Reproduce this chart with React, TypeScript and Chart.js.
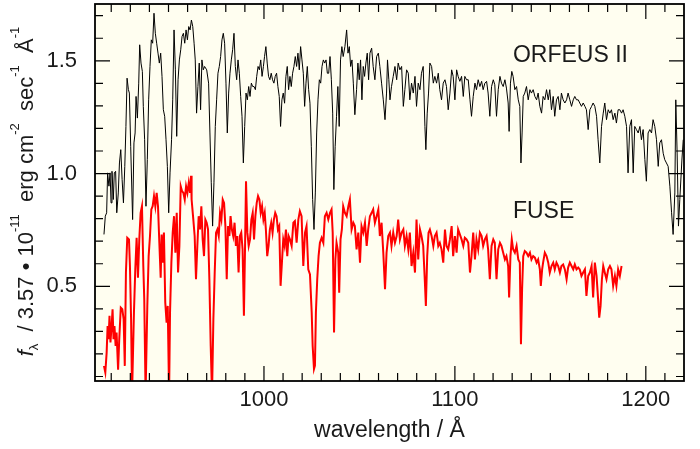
import React, { useEffect, useRef } from 'react';
import { Chart, registerables } from 'chart.js';

Chart.register(...registerables);

// ORFEUS II spectrum (wavelength in Å, scaled flux)
const orfeusWavelength = [
  916.2, 916.9, 917.6, 918.1, 918.8, 919.4, 919.9, 920.4, 921.1, 921.6, 922.3, 922.9, 923.7, 924.3, 925.0, 925.7, 926.4, 927.1, 927.7, 928.3,
  929.0, 929.5, 930.2, 931.2, 931.9, 932.5, 933.0, 933.7, 934.4, 934.9, 935.6, 936.3, 936.8, 937.5, 938.2, 938.9, 939.6, 940.3, 941.0, 941.7,
  942.4, 943.1, 943.8, 944.5, 945.2, 945.9, 946.6, 947.3, 948.0, 948.7, 949.4, 950.1, 950.8, 951.6, 952.2, 952.9, 953.6, 954.3, 955.0, 955.7,
  956.4, 957.1, 957.8, 958.5, 959.2, 959.9, 960.6, 961.3, 962.0, 962.7, 963.4, 964.0, 964.7, 965.4, 966.1, 966.8, 967.5, 968.2, 968.9, 970.0,
  971.0, 971.7, 972.4, 973.1, 973.8, 974.5, 975.2, 975.9, 976.6, 977.3, 978.0, 978.7, 979.4, 980.1, 980.8, 981.5, 982.2, 982.9, 983.6, 984.3,
  985.0, 985.7, 986.4, 987.1, 987.8, 988.5, 989.2, 989.9, 990.6, 991.3, 992.0, 992.7, 993.4, 994.1, 994.8, 995.5, 996.2, 996.9, 997.6, 998.3,
  999.0, 999.7, 1000.3, 1001.0, 1001.7, 1002.4, 1003.1, 1003.8, 1004.5, 1005.2, 1005.9, 1006.6, 1007.3, 1008.0, 1008.7, 1009.4, 1010.1, 1010.8, 1011.5, 1012.2,
  1012.9, 1013.6, 1014.3, 1015.0, 1015.7, 1016.4, 1017.1, 1017.8, 1018.5, 1019.2, 1019.9, 1020.6, 1021.3, 1022.0, 1022.7, 1023.4, 1024.1, 1024.8, 1025.5, 1026.2,
  1026.9, 1027.6, 1028.3, 1029.0, 1029.7, 1030.4, 1031.1, 1031.8, 1032.5, 1033.2, 1033.9, 1034.6, 1035.3, 1036.0, 1036.6, 1037.3, 1038.0, 1038.7, 1039.4, 1040.1,
  1040.8, 1041.5, 1042.4, 1043.3, 1044.0, 1044.7, 1045.4, 1046.1, 1046.8, 1047.6, 1048.5, 1049.2, 1049.9, 1050.6, 1051.3, 1052.0, 1052.7, 1053.4, 1054.1, 1054.8,
  1055.5, 1056.4, 1057.2, 1058.1, 1059.0, 1059.9, 1060.7, 1061.6, 1062.5, 1063.4, 1064.2, 1064.7, 1065.4, 1066.0, 1066.8, 1067.7, 1068.6, 1069.5, 1070.3, 1071.2,
  1072.1, 1073.0, 1073.8, 1074.7, 1075.6, 1076.4, 1077.3, 1078.2, 1079.1, 1079.9, 1080.8, 1081.7, 1082.5, 1083.4, 1084.3, 1084.8, 1085.5, 1086.2, 1086.9, 1087.8,
  1088.7, 1089.5, 1090.4, 1091.3, 1092.1, 1093.0, 1093.9, 1094.8, 1095.6, 1096.5, 1097.4, 1098.3, 1099.1, 1100.0, 1100.9, 1101.7, 1102.6, 1103.5, 1104.4, 1105.2,
  1106.1, 1107.0, 1107.9, 1108.7, 1109.6, 1110.5, 1111.3, 1112.2, 1113.1, 1114.0, 1114.8, 1115.7, 1116.6, 1117.4, 1118.3, 1119.2, 1120.1, 1120.9, 1121.8, 1122.7,
  1123.6, 1124.4, 1125.3, 1126.2, 1127.0, 1127.9, 1128.4, 1129.1, 1129.8, 1130.5, 1131.4, 1132.3, 1133.2, 1134.0, 1134.6, 1135.2, 1135.8, 1136.6, 1137.5, 1138.4,
  1139.3, 1140.1, 1141.0, 1141.9, 1142.8, 1143.6, 1144.5, 1145.4, 1146.2, 1147.1, 1148.0, 1148.9, 1149.7, 1150.6, 1151.5, 1152.3, 1153.2, 1154.1, 1155.0, 1155.8,
  1156.7, 1157.6, 1158.5, 1159.3, 1160.2, 1161.1, 1162.0, 1162.8, 1163.7, 1164.6, 1165.4, 1166.3, 1167.2, 1168.1, 1168.9, 1169.8, 1170.7, 1171.6, 1172.4, 1173.3,
  1174.2, 1175.0, 1175.9, 1176.8, 1177.7, 1178.5, 1179.4, 1180.3, 1181.2, 1182.0, 1182.9, 1183.8, 1184.6, 1185.5, 1186.4, 1187.3, 1188.1, 1189.0, 1189.9, 1190.7,
  1191.6, 1192.5, 1193.4, 1194.2, 1195.1, 1196.0, 1196.9, 1197.7, 1198.6, 1199.5, 1200.3, 1201.2, 1202.1, 1203.0, 1203.8, 1204.7, 1205.6, 1206.5, 1207.3, 1208.2,
  1209.1, 1209.9, 1210.8, 1211.7, 1212.6, 1213.5, 1214.3, 1215.2, 1215.7, 1216.4, 1217.1, 1217.8, 1218.9, 1219.6,
];
const orfeusFlux = [
  0.730, 0.811, 0.826, 1.003, 0.944, 1.003, 0.870, 1.010, 0.885, 1.003, 1.010, 0.826, 0.914, 1.047, 1.106, 0.973, 0.870, 1.032, 1.209, 1.423,
  1.372, 1.357, 1.121, 0.796, 1.136, 1.180, 1.342, 1.246, 1.401, 1.571, 1.490, 1.453, 1.298, 1.150, 0.855, 1.062, 1.327, 1.475, 1.593, 1.578,
  1.711, 1.622, 1.578, 1.534, 1.490, 1.534, 1.431, 1.283, 1.254, 1.150, 1.032, 0.826, 1.003, 1.150, 1.327, 1.637, 1.460, 1.165, 1.416, 1.504,
  1.549, 1.608, 1.622, 1.578, 1.637, 1.593, 1.652, 1.637, 1.681, 1.652, 1.578, 1.504, 1.268, 1.386, 1.490, 1.283, 1.504, 1.460, 1.475, 1.460,
  1.401, 1.180, 0.959, 0.767, 0.959, 1.209, 1.327, 1.445, 1.475, 1.519, 1.593, 1.622, 1.578, 1.401, 1.180, 1.357, 1.445, 1.504, 1.549, 1.622,
  1.475, 1.416, 1.504, 1.445, 1.342, 1.254, 1.047, 1.209, 1.357, 1.327, 1.386, 1.342, 1.401, 1.386, 1.386, 1.372, 1.431, 1.475, 1.460, 1.504,
  1.431, 1.475, 1.519, 1.563, 1.490, 1.431, 1.416, 1.445, 1.416, 1.401, 1.431, 1.445, 1.386, 1.342, 1.209, 1.327, 1.357, 1.312, 1.431, 1.475,
  1.372, 1.431, 1.386, 1.445, 1.475, 1.519, 1.475, 1.534, 1.460, 1.563, 1.504, 1.445, 1.298, 1.401, 1.475, 1.372, 1.312, 1.121, 0.885, 0.752,
  0.914, 1.180, 1.327, 1.416, 1.401, 1.475, 1.504, 1.490, 1.504, 1.445, 1.445, 1.519, 1.416, 1.268, 0.929, 1.121, 1.254, 1.386, 1.209, 1.504,
  1.563, 1.519, 1.563, 1.637, 1.534, 1.563, 1.475, 1.504, 1.401, 1.261, 1.372, 1.490, 1.416, 1.504, 1.327, 1.475, 1.431, 1.490, 1.534, 1.416,
  1.534, 1.556, 1.475, 1.416, 1.519, 1.534, 1.475, 1.401, 1.327, 1.239, 1.357, 1.504, 1.416, 1.327, 1.386, 1.431, 1.475, 1.416, 1.490, 1.460,
  1.475, 1.298, 1.372, 1.460, 1.445, 1.327, 1.401, 1.357, 1.431, 1.298, 1.401, 1.372, 1.445, 1.475, 1.209, 1.106, 1.268, 1.357, 1.490, 1.475,
  1.401, 1.431, 1.401, 1.445, 1.372, 1.327, 1.401, 1.416, 1.386, 1.283, 1.357, 1.460, 1.431, 1.327, 1.460, 1.431, 1.409, 1.431, 1.342, 1.431,
  1.416, 1.416, 1.327, 1.254, 1.342, 1.401, 1.372, 1.416, 1.386, 1.409, 1.372, 1.401, 1.409, 1.357, 1.254, 1.386, 1.416, 1.394, 1.254, 1.372,
  1.431, 1.401, 1.386, 1.416, 1.379, 1.313, 1.187, 1.401, 1.453, 1.431, 1.372, 1.386, 1.327, 1.298, 1.047, 1.180, 1.342, 1.357, 1.386, 1.327,
  1.372, 1.357, 1.372, 1.342, 1.327, 1.357, 1.298, 1.268, 1.342, 1.327, 1.372, 1.327, 1.372, 1.283, 1.342, 1.254, 1.327, 1.342, 1.283, 1.357,
  1.327, 1.313, 1.327, 1.357, 1.327, 1.298, 1.327, 1.342, 1.327, 1.327, 1.313, 1.298, 1.313, 1.298, 1.283, 1.195, 1.283, 1.298, 1.313, 1.298,
  1.254, 1.150, 1.047, 1.209, 1.268, 1.313, 1.239, 1.283, 1.268, 1.283, 1.239, 1.268, 1.224, 1.283, 1.283, 1.268, 1.283, 1.254, 1.209, 1.003,
  1.209, 1.239, 1.003, 1.209, 1.195, 1.180, 1.209, 1.150, 1.195, 1.062, 0.966, 1.180, 1.195, 1.180, 1.239, 1.209, 1.150, 1.032, 1.136, 1.150,
  1.090, 1.062, 1.047, 1.032, 0.944, 0.826, 0.730, 0.914, 1.327, 1.091, 0.767, 0.885, 1.060, 1.150,
];

// FUSE spectrum
const fuseWavelength = [
  916.2, 916.9, 917.6, 918.1, 918.6, 919.1, 919.6, 920.2, 920.7, 921.2, 921.7, 922.3, 922.8, 923.6, 924.2, 925.0, 925.8, 926.5, 927.1, 927.7,
  928.4, 929.3, 929.8, 930.4, 930.9, 931.9, 932.6, 933.3, 934.0, 934.7, 935.4, 936.1, 936.8, 937.3, 938.0, 938.9, 939.6, 940.3, 941.0, 941.7,
  942.4, 943.1, 943.8, 944.5, 945.2, 945.9, 946.4, 946.9, 947.6, 948.3, 949.0, 949.6, 950.3, 950.8, 951.5, 952.2, 952.9, 953.6, 954.3, 955.0,
  955.7, 956.4, 957.1, 957.8, 958.5, 959.2, 959.9, 960.6, 961.3, 961.8, 962.1, 963.0, 963.7, 964.4, 965.1, 965.8, 966.5, 967.2, 967.9, 968.6,
  969.3, 970.0, 970.7, 971.4, 972.1, 972.8, 973.5, 974.2, 974.9, 975.6, 976.3, 977.0, 977.7, 978.4, 979.1, 979.8, 980.5, 981.2, 981.9, 982.5,
  983.2, 983.9, 984.6, 985.3, 986.0, 986.7, 987.4, 988.1, 988.8, 989.5, 990.1, 990.6, 991.3, 992.0, 992.7, 993.4, 994.1, 994.8, 995.5, 996.2,
  996.9, 997.6, 998.3, 999.0, 999.7, 1000.4, 1001.0, 1001.7, 1002.4, 1003.1, 1003.8, 1004.5, 1005.2, 1005.9, 1006.6, 1007.3, 1008.0, 1008.7, 1009.4, 1010.1,
  1010.8, 1011.5, 1012.2, 1012.9, 1013.6, 1014.5, 1015.4, 1016.2, 1017.1, 1018.0, 1018.8, 1019.7, 1020.6, 1021.5, 1022.3, 1023.2, 1024.1, 1025.0, 1025.5, 1026.2,
  1026.7, 1027.2, 1027.9, 1028.6, 1029.3, 1030.2, 1031.1, 1031.9, 1032.8, 1033.7, 1034.6, 1035.4, 1036.0, 1036.7, 1037.4, 1038.0, 1038.9, 1039.4, 1040.1, 1040.8,
  1041.5, 1042.4, 1043.3, 1044.2, 1045.0, 1045.9, 1046.8, 1047.6, 1048.5, 1049.4, 1050.3, 1051.1, 1052.0, 1052.9, 1053.8, 1054.6, 1055.5, 1056.4, 1057.2, 1058.1,
  1059.0, 1059.9, 1060.7, 1061.6, 1062.5, 1063.4, 1064.2, 1065.1, 1066.0, 1066.8, 1067.7, 1068.6, 1069.5, 1070.3, 1071.2, 1072.1, 1073.0, 1073.8, 1074.7, 1075.6,
  1076.4, 1077.3, 1078.2, 1079.1, 1079.9, 1080.8, 1081.7, 1082.5, 1083.4, 1084.3, 1084.8, 1085.5, 1086.2, 1086.9, 1087.8, 1088.7, 1089.5, 1090.4, 1091.3, 1092.1,
  1093.0, 1093.9, 1094.8, 1095.6, 1096.5, 1097.4, 1098.3, 1099.1, 1100.0, 1100.9, 1101.7, 1102.6, 1103.5, 1104.4, 1105.2, 1106.1, 1107.0, 1107.9, 1108.7, 1109.6,
  1110.5, 1111.3, 1112.2, 1113.1, 1114.0, 1114.8, 1115.7, 1116.6, 1117.4, 1118.3, 1119.2, 1120.1, 1120.9, 1121.8, 1122.7, 1123.6, 1124.4, 1125.3, 1126.2, 1127.0,
  1127.9, 1128.4, 1129.1, 1129.8, 1130.5, 1131.4, 1132.3, 1133.2, 1134.0, 1134.6, 1135.2, 1135.8, 1136.6, 1137.5, 1138.4, 1139.3, 1140.1, 1141.0, 1141.9, 1142.8,
  1143.6, 1144.5, 1145.0, 1145.7, 1146.2, 1147.1, 1148.0, 1148.9, 1149.7, 1150.6, 1151.5, 1152.3, 1153.2, 1154.1, 1155.0, 1155.8, 1156.7, 1157.6, 1158.5, 1159.3,
  1160.2, 1161.1, 1162.0, 1162.8, 1163.7, 1164.6, 1165.4, 1166.3, 1167.2, 1168.1, 1168.9, 1169.8, 1170.7, 1171.6, 1172.4, 1173.3, 1174.2, 1175.0, 1175.6, 1176.3,
  1177.0, 1177.7, 1178.5, 1179.4, 1180.3, 1181.2, 1182.0, 1182.9, 1183.8, 1184.6, 1185.5, 1186.4, 1187.3,
];
const fuseFlux = [
  0.147, 0.118, 0.206, 0.324, 0.265, 0.369, 0.251, 0.324, 0.398, 0.265, 0.324, 0.236, 0.295, 0.130, 0.265, 0.405, 0.398, 0.354, 0.147, 0.561,
  0.715, 0.708, 0.590, 0.354, 0.020, 0.384, 0.575, 0.715, 0.538, 0.708, 0.826, 0.855, 0.590, 0.443, 0.020, 0.413, 0.634, 0.723, 0.841, 0.855,
  0.900, 0.855, 0.914, 0.855, 0.693, 0.538, 0.730, 0.605, 0.738, 0.428, 0.339, 0.413, 0.020, 0.384, 0.605, 0.738, 0.811, 0.649, 0.826, 0.561,
  0.679, 0.944, 0.922, 0.914, 0.885, 0.944, 0.914, 0.959, 0.914, 0.990, 0.885, 0.796, 0.723, 0.531, 0.679, 0.811, 0.752, 0.855, 0.708, 0.634,
  0.796, 0.782, 0.752, 0.531, 0.236, 0.020, 0.354, 0.561, 0.738, 0.752, 0.723, 0.826, 0.796, 0.885, 0.870, 0.767, 0.531, 0.767, 0.723, 0.811,
  0.752, 0.723, 0.782, 0.679, 0.723, 0.561, 0.723, 0.738, 0.664, 0.369, 0.679, 0.966, 0.738, 0.679, 0.708, 0.796, 0.826, 0.708, 0.811, 0.870,
  0.900, 0.885, 0.826, 0.855, 0.796, 0.826, 0.752, 0.634, 0.679, 0.752, 0.782, 0.738, 0.796, 0.826, 0.811, 0.752, 0.767, 0.502, 0.605, 0.708,
  0.679, 0.752, 0.634, 0.723, 0.708, 0.679, 0.782, 0.789, 0.693, 0.796, 0.833, 0.811, 0.590, 0.738, 0.767, 0.575, 0.553, 0.384, 0.236, 0.133,
  0.148, 0.384, 0.531, 0.634, 0.693, 0.715, 0.693, 0.811, 0.826, 0.796, 0.826, 0.841, 0.738, 0.295, 0.619, 0.693, 0.649, 0.472, 0.708, 0.752,
  0.855, 0.826, 0.811, 0.855, 0.885, 0.752, 0.782, 0.767, 0.664, 0.738, 0.605, 0.767, 0.738, 0.782, 0.679, 0.752, 0.811, 0.826, 0.841, 0.782,
  0.811, 0.841, 0.723, 0.782, 0.649, 0.487, 0.649, 0.723, 0.738, 0.679, 0.738, 0.693, 0.723, 0.796, 0.708, 0.738, 0.752, 0.679, 0.723, 0.664,
  0.738, 0.590, 0.649, 0.561, 0.796, 0.619, 0.752, 0.723, 0.679, 0.516, 0.413, 0.634, 0.738, 0.752, 0.723, 0.679, 0.723, 0.738, 0.679, 0.693,
  0.664, 0.605, 0.752, 0.679, 0.664, 0.708, 0.767, 0.634, 0.723, 0.649, 0.752, 0.730, 0.708, 0.679, 0.715, 0.708, 0.693, 0.561, 0.634, 0.738,
  0.619, 0.708, 0.664, 0.738, 0.723, 0.679, 0.708, 0.723, 0.664, 0.531, 0.679, 0.708, 0.693, 0.531, 0.664, 0.693, 0.679, 0.649, 0.619, 0.634,
  0.590, 0.450, 0.634, 0.708, 0.664, 0.649, 0.679, 0.619, 0.605, 0.243, 0.487, 0.634, 0.656, 0.649, 0.634, 0.649, 0.619, 0.634, 0.627, 0.605,
  0.619, 0.575, 0.502, 0.575, 0.605, 0.649, 0.634, 0.605, 0.561, 0.590, 0.605, 0.575, 0.605, 0.590, 0.561, 0.590, 0.597, 0.575, 0.531, 0.583,
  0.605, 0.590, 0.575, 0.597, 0.575, 0.583, 0.575, 0.546, 0.561, 0.575, 0.457, 0.546, 0.561, 0.590, 0.450, 0.605, 0.546, 0.443, 0.361, 0.413,
  0.531, 0.590, 0.561, 0.531, 0.575, 0.590, 0.575, 0.502, 0.546, 0.502, 0.575, 0.546, 0.590,
];

// Axes
const xMin = 911.5;
const xMax = 1220;
const yMin = 0.08;
const yMax = 1.752;
const xTickValues = [1000, 1100, 1200];
const yTickValues = [0.5, 1.0, 1.5];
const xMinorStep = 10;
const yMinorStep = 0.1;
const xTitle = 'wavelength / Å';

// Series labels (anchored in data coordinates)
const seriesLabels = [
  { text: 'ORFEUS II', x: 1130.4, y: 1.496 },
  { text: 'FUSE', x: 1130.4, y: 0.801 },
];

// Y-axis title pieces: [text, kind]
const yTitlePieces: [string, string][] = [
  ['f', 'italic'],
  ['λ', 'sub'],
  ['  / 3.57 • 10', 'main'],
  ['-11', 'sup'],
  ['  erg cm', 'main'],
  ['-2', 'sup'],
  ['  sec', 'main'],
  ['-1', 'sup'],
  ['  Å', 'main'],
  ['-1', 'sup'],
];

const FONT = "'Liberation Sans', Arial, Helvetica, sans-serif";
const TEXT_COLOR = '#1a1a1a';
const PLOT_BG = '#fffef0';

const plotPlugin = {
  id: 'plotDecor',
  beforeDatasetsDraw(chart: any) {
    const { ctx, chartArea } = chart;
    ctx.save();
    ctx.fillStyle = PLOT_BG;
    ctx.fillRect(chartArea.left, chartArea.top, chartArea.right - chartArea.left, chartArea.bottom - chartArea.top);
    ctx.restore();
  },
  afterDatasetsDraw(chart: any) {
    const { ctx, chartArea } = chart;
    const { left, right, top, bottom } = chartArea;
    const xs = chart.scales.x;
    const ys = chart.scales.y;
    ctx.save();
    ctx.strokeStyle = '#000';
    ctx.lineWidth = 1.2;
    ctx.beginPath();
    const x0 = Math.ceil(xMin / xMinorStep) * xMinorStep;
    for (let v = x0; v <= xMax + 1e-6; v += xMinorStep) {
      const px = xs.getPixelForValue(v);
      if (px < left + 1 || px > right - 1) continue;
      const major = Math.abs(v % 100) < 1e-6;
      const len = major ? 15 : 8;
      ctx.moveTo(px, bottom);
      ctx.lineTo(px, bottom - len);
      ctx.moveTo(px, top);
      ctx.lineTo(px, top + len);
    }
    const n0 = Math.ceil(yMin / yMinorStep - 1e-6);
    const n1 = Math.floor(yMax / yMinorStep + 1e-6);
    for (let i = n0; i <= n1; i++) {
      const v = i * yMinorStep;
      const py = ys.getPixelForValue(v);
      if (py < top + 1 || py > bottom - 1) continue;
      const major = i % 5 === 0;
      const len = major ? 15 : 8;
      ctx.moveTo(left, py);
      ctx.lineTo(left + len, py);
      ctx.moveTo(right, py);
      ctx.lineTo(right - len, py);
    }
    ctx.stroke();
    ctx.lineWidth = 1.8;
    ctx.strokeRect(left, top, right - left, bottom - top);
    ctx.restore();
  },
  afterDraw(chart: any) {
    const { ctx, chartArea } = chart;
    const xs = chart.scales.x;
    const ys = chart.scales.y;
    ctx.save();
    ctx.fillStyle = TEXT_COLOR;
    ctx.textBaseline = 'alphabetic';
    ctx.textAlign = 'left';
    ctx.font = `23px ${FONT}`;
    for (const l of seriesLabels) {
      ctx.fillText(l.text, xs.getPixelForValue(l.x), ys.getPixelForValue(l.y));
    }
    ctx.restore();

    // rotated y-axis title with sub/superscripts
    ctx.save();
    ctx.fillStyle = TEXT_COLOR;
    ctx.textBaseline = 'alphabetic';
    ctx.textAlign = 'left';
    const fontFor = (kind: string) =>
      kind === 'italic' ? `italic 22px ${FONT}` : kind === 'main' ? `22px ${FONT}` : `13px ${FONT}`;
    const dyFor = (kind: string) => (kind === 'sup' ? -14 : kind === 'sub' ? 5 : 0);
    let total = 0;
    for (const [t, k] of yTitlePieces) {
      ctx.font = fontFor(k);
      total += ctx.measureText(t).width;
    }
    const cy = (chartArea.top + chartArea.bottom) / 2 - 1;
    ctx.translate(33, cy);
    ctx.rotate(-Math.PI / 2);
    let cx = -total / 2;
    for (const [t, k] of yTitlePieces) {
      ctx.font = fontFor(k);
      ctx.fillText(t, cx, dyFor(k));
      cx += ctx.measureText(t).width;
    }
    ctx.restore();
  },
};

export default function App() {
  const canvasRef = useRef<HTMLCanvasElement | null>(null);

  useEffect(() => {
    if (!canvasRef.current) return;
    const orfeusPoints = orfeusWavelength.map((x, i) => ({ x, y: orfeusFlux[i] }));
    const fusePoints = fuseWavelength.map((x, i) => ({ x, y: fuseFlux[i] }));
    const chart = new Chart(canvasRef.current, {
      type: 'scatter',
      data: {
        datasets: [
          {
            label: 'ORFEUS II',
            data: orfeusPoints,
            showLine: true,
            borderColor: '#000000',
            borderWidth: 1,
            pointRadius: 0,
            tension: 0,
          },
          {
            label: 'FUSE',
            data: fusePoints,
            showLine: true,
            borderColor: '#ff0000',
            borderWidth: 2,
            pointRadius: 0,
            tension: 0,
          },
        ],
      },
      options: {
        responsive: false,
        animation: false,
        layout: { padding: { left: 0, top: 4, right: 16, bottom: 0 } },
        plugins: {
          legend: { display: false },
          tooltip: { enabled: false },
        },
        scales: {
          x: {
            type: 'linear',
            min: xMin,
            max: xMax,
            grid: { display: false, drawTicks: false },
            border: { display: false },
            afterBuildTicks: (scale: any) => {
              scale.ticks = xTickValues.map((v) => ({ value: v }));
            },
            afterFit: (scale: any) => {
              scale.height = 68;
              scale.paddingLeft = 0;
              scale.paddingRight = 0;
            },
            ticks: {
              color: TEXT_COLOR,
              font: { family: FONT, size: 22 },
              padding: 6,
              maxRotation: 0,
              autoSkip: false,
              callback: (v: any) => String(v),
            },
            title: {
              display: true,
              text: xTitle,
              color: TEXT_COLOR,
              font: { family: FONT, size: 23 },
              padding: { top: 0, bottom: 5 },
            },
          },
          y: {
            type: 'linear',
            min: yMin,
            max: yMax,
            grid: { display: false, drawTicks: false },
            border: { display: false },
            afterBuildTicks: (scale: any) => {
              scale.ticks = yTickValues.map((v) => ({ value: v }));
            },
            afterFit: (scale: any) => {
              scale.width = 95;
              scale.paddingTop = 0;
              scale.paddingBottom = 0;
            },
            ticks: {
              color: TEXT_COLOR,
              font: { family: FONT, size: 22 },
              padding: 18,
              autoSkip: false,
              callback: (v: any) => Number(v).toFixed(1),
            },
          },
        },
      },
      plugins: [plotPlugin],
    });
    return () => chart.destroy();
  }, []);

  return (
    <div style={{ position: 'fixed', left: 0, top: 0, width: 700, height: 449, background: '#ffffff' }}>
      <canvas ref={canvasRef} width={700} height={449} />
    </div>
  );
}
